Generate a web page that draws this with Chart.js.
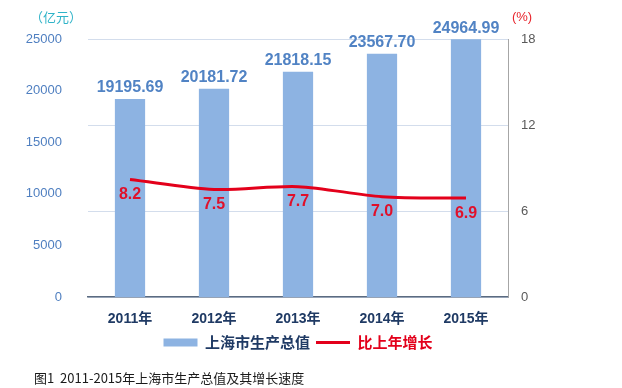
<!DOCTYPE html>
<html>
<head>
<meta charset="utf-8">
<script src="https://cdn.jsdelivr.net/npm/chart.js@4/dist/chart.umd.min.js"></script>
<style>
  html, body { margin: 0; padding: 0; background: #fff; }
  #wrap { width: 622px; height: 388px; position: relative; }
</style>
</head>
<body>
<div id="wrap"><canvas id="chart"></canvas></div>
<script>
// data
var years = ["2011年", "2012年", "2013年", "2014年", "2015年"];
var gdp = [19195.69, 20181.72, 21818.15, 23567.70, 24964.99];
var growth = [8.2, 7.5, 7.7, 7.0, 6.9];
var gdpLabels = ["19195.69", "20181.72", "21818.15", "23567.70", "24964.99"];
var growthLabels = ["8.2", "7.5", "7.7", "7.0", "6.9"];

var FONT = '"Liberation Sans", Arial, "Noto Sans CJK SC", sans-serif';
var CJK = '"Noto Sans CJK SC", "Liberation Sans", sans-serif';

// value labels, axis units and caption
var extras = {
    id: "extras",
    afterDatasetsDraw: function (chart) {
        var ctx = chart.ctx;
        ctx.save();
        ctx.textAlign = "center";
        ctx.textBaseline = "middle";

        // bar values (dataset 1)
        ctx.font = "bold 16px " + FONT;
        ctx.fillStyle = "#5183c4";
        chart.getDatasetMeta(1).data.forEach(function (el, i) {
            ctx.fillText(gdpLabels[i], el.x, el.y - 11);
        });

        // growth values under the line (dataset 0)
        ctx.fillStyle = "#e0102a";
        chart.getDatasetMeta(0).data.forEach(function (el, i) {
            ctx.fillText(growthLabels[i], el.x, el.y + 15);
        });

        var area = chart.chartArea;
        ctx.font = "13px " + CJK;
        ctx.fillStyle = "#2fb3c8";
        ctx.fillText("（亿元）", area.left - 32, area.top - 22);
        ctx.font = "13px " + FONT;
        ctx.fillStyle = "#e8252d";
        ctx.fillText("(%)", area.right + 14, area.top - 22);

        ctx.textAlign = "left";
        ctx.font = "13px " + CJK;
        ctx.fillStyle = "#1a1a1a";
        ctx.fillText("图1  2011-2015年上海市生产总值及其增长速度", 34, 378);
        ctx.restore();
    }
};

new Chart(document.getElementById("chart"), {
    data: {
        labels: years,
        datasets: [
            {
                type: "line",
                label: "比上年增长",
                data: growth,
                yAxisID: "y1",
                borderColor: "#e3001b",
                borderWidth: 3,
                tension: 0.3,
                pointRadius: 0,
                order: 0
            },
            {
                type: "bar",
                label: "上海市生产总值",
                data: gdp,
                yAxisID: "y",
                backgroundColor: "#8db3e2",
                barPercentage: 0.36,
                categoryPercentage: 1,
                order: 1
            }
        ]
    },
    plugins: [extras],
    options: {
        responsive: true,
        maintainAspectRatio: false,
        animation: false,
        layout: { padding: { top: 39, bottom: 28, left: 0, right: 0 } },
        plugins: {
            tooltip: { enabled: false },
            legend: {
                position: "bottom",
                fullSize: false,
                labels: {
                    usePointStyle: true,
                    pointStyleWidth: 34,
                    boxHeight: 8,
                    padding: 6,
                    font: { family: CJK, size: 15, weight: "bold" },
                    generateLabels: function () {
                        return [
                            { text: "上海市生产总值", pointStyle: "rect", fillStyle: "#8db3e2",
                              strokeStyle: "#8db3e2", lineWidth: 0, fontColor: "#1f3a64", datasetIndex: 1 },
                            { text: "比上年增长", pointStyle: "line", fillStyle: "#e3001b",
                              strokeStyle: "#e3001b", lineWidth: 3, fontColor: "#e3001b", datasetIndex: 0 }
                        ];
                    }
                }
            }
        },
        scales: {
            x: {
                grid: { display: false, drawTicks: false },
                border: { display: true, color: "#5b6b80", width: 1.5 },
                ticks: {
                    color: "#1f3a64",
                    padding: 14,
                    font: { family: FONT, size: 14, weight: "bold" }
                },
                afterFit: function (s) { s.height = 32; }
            },
            y: {
                position: "left",
                min: 0,
                max: 25000,
                ticks: {
                    stepSize: 5000,
                    color: "#4f7fc0",
                    padding: 18,
                    font: { family: FONT, size: 13 },
                    callback: function (v) { return String(v); }
                },
                grid: { display: false },
                border: { display: false },
                afterFit: function (s) { s.width = 88; }
            },
            y1: {
                position: "right",
                min: 0,
                max: 18,
                ticks: {
                    stepSize: 6,
                    color: "#595959",
                    padding: 13,
                    font: { family: FONT, size: 13 }
                },
                grid: { color: "#d3ddec", drawTicks: false },
                border: { display: true, color: "#a6a6a6" },
                afterFit: function (s) { s.width = 114; }
            }
        }
    }
});
</script>
</body>
</html>
